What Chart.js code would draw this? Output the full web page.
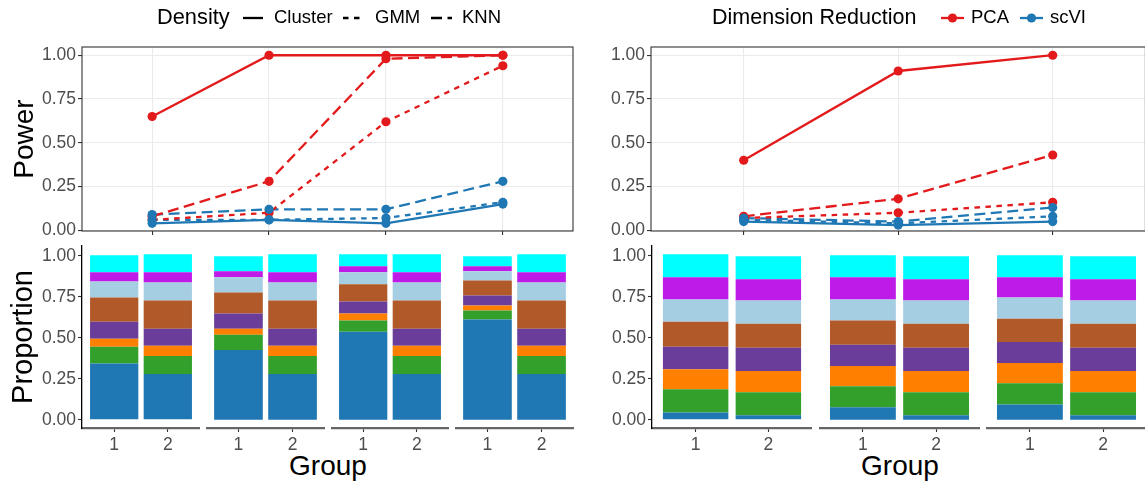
<!DOCTYPE html>
<html lang="en">
<head>
<meta charset="UTF-8">
<title>Power and Proportion</title>
<script src="https://cdn.jsdelivr.net/npm/chart.js"></script>
<style>
  body { margin: 0; background: #fff; width: 1145px; height: 485px; overflow: hidden; position: relative;
         font-family: "Liberation Sans", Arial, sans-serif; }
  canvas { position: absolute; }
  .xtitle { position: absolute; font-size: 28px; color: #000; line-height: 1; transform: translate(-50%, -50%); }
</style>
</head>
<body>
<div class="xtitle" style="left:328px; top:466px;">Group</div>
<div class="xtitle" style="left:900px; top:466px;">Group</div>

<script>
// ---- power curves (x = setting index, not labelled) ----
const settingsLeft = [1, 2, 3, 4];
const settingsRight = [1, 2, 3];

const pcaClusterL = [0.65, 1.00, 1.00, 1.00];
const pcaGmmL     = [0.06, 0.10, 0.62, 0.94];
const pcaKnnL     = [0.08, 0.28, 0.98, 1.00];
const scviClusterL = [0.04, 0.06, 0.04, 0.15];
const scviGmmL     = [0.06, 0.06, 0.07, 0.16];
const scviKnnL     = [0.09, 0.12, 0.12, 0.28];

const pcaClusterR = [0.40, 0.91, 1.00];
const pcaGmmR     = [0.07, 0.10, 0.16];
const pcaKnnR     = [0.08, 0.18, 0.43];
const scviClusterR = [0.05, 0.03, 0.05];
const scviGmmR     = [0.06, 0.04, 0.08];
const scviKnnR     = [0.07, 0.05, 0.13];

const powerTicks = [0, 0.125, 0.25, 0.375, 0.5, 0.625, 0.75, 0.875, 1];

// ---- cell type proportions, bottom to top ----
const groups = ['1', '2'];
const cellTypes = ['Type 1', 'Type 2', 'Type 3', 'Type 4', 'Type 5', 'Type 6', 'Type 7', 'Type 8'];

const leftG2  = [0.279, 0.110, 0.062, 0.104, 0.172, 0.111, 0.062, 0.110];
const leftA1  = [0.344, 0.101, 0.049, 0.104, 0.148, 0.098, 0.056, 0.104];
const leftB1  = [0.426, 0.092, 0.037, 0.093, 0.129, 0.092, 0.037, 0.092];
const leftC1  = [0.537, 0.068, 0.043, 0.073, 0.105, 0.074, 0.036, 0.074];
const leftD1  = [0.611, 0.055, 0.031, 0.061, 0.092, 0.056, 0.030, 0.062];

const rightG2 = [0.027, 0.141, 0.129, 0.142, 0.147, 0.141, 0.130, 0.141];
const rightA1 = [0.045, 0.141, 0.123, 0.136, 0.153, 0.136, 0.135, 0.141];
const rightB1 = [0.076, 0.129, 0.123, 0.129, 0.148, 0.129, 0.135, 0.135];
const rightC1 = [0.094, 0.129, 0.123, 0.129, 0.142, 0.129, 0.123, 0.135];

const propTicks = [0, 0.25, 0.5, 0.75, 1];

// ---- styling ----
const methods = ['PCA', 'scVI'];
const methodColors = ['#E31A1C', '#1F78B4'];
const densities = ['Cluster', 'GMM', 'KNN'];
const densityDash = [[], [5.5, 5.5], [11, 5.5]];
const cellColors = ['#1F78B4', '#33A02C', '#FF7F00', '#6A3D9A', '#B15928', '#A6CEE3', '#BE1BE8', '#00FFFF'];
const tickGrey = '#4D4D4D';
const lineW = 2.3, dotR = 4.6;

Chart.defaults.font.family = '"Liberation Sans", Arial, sans-serif';

function makeCanvas(left, top, w, h) {
  const c = document.createElement('canvas');
  c.width = w; c.height = h;
  c.style.left = left + 'px'; c.style.top = top + 'px';
  document.body.appendChild(c);
  return c;
}

const panelBorder = {
  id: 'panelBorder',
  afterDraw(chart) {
    const a = chart.chartArea, ctx = chart.ctx;
    ctx.save();
    ctx.strokeStyle = '#333333';
    ctx.lineWidth = 1.1;
    ctx.strokeRect(a.left, a.top, a.right - a.left, a.bottom - a.top);
    ctx.restore();
  }
};

function drawKey(ctx, x1, x2, y, color, dash, dot) {
  ctx.save();
  ctx.strokeStyle = color;
  ctx.lineWidth = lineW;
  ctx.setLineDash(dash);
  ctx.beginPath(); ctx.moveTo(x1, y); ctx.lineTo(x2, y); ctx.stroke();
  if (dot) {
    ctx.fillStyle = color;
    ctx.beginPath(); ctx.arc((x1 + x2) / 2, y, dotR, 0, Math.PI * 2); ctx.fill();
  }
  ctx.restore();
}

function legendText(ctx, txt, x, y, size) {
  ctx.save();
  ctx.fillStyle = '#000';
  ctx.font = size + 'px "Liberation Sans", Arial, sans-serif';
  ctx.textBaseline = 'middle';
  ctx.fillText(txt, x, y);
  ctx.restore();
}

// legend for line type (left panel)
const densityLegend = {
  id: 'densityLegend',
  afterDraw(chart) {
    const ctx = chart.ctx, y = 18;
    legendText(ctx, 'Density', 157, y, 21.8);
    const keys = [[243, 263, 274], [343, 363, 375], [431, 452, 462]];
    keys.forEach((k, i) => {
      drawKey(ctx, k[0], k[1], y, '#000', densityDash[i], false);
      legendText(ctx, densities[i], k[2], y, 18.5);
    });
  }
};

// legend for colour (right panel), canvas starts at x = 580
const methodLegend = {
  id: 'methodLegend',
  afterDraw(chart) {
    const ctx = chart.ctx, y = 18, dx = 580;
    legendText(ctx, 'Dimension Reduction', 712 - dx, y, 21.5);
    const keys = [[941, 964, 971], [1020, 1043, 1050]];
    keys.forEach((k, i) => {
      drawKey(ctx, k[0] - dx, k[1] - dx, y, methodColors[i], [], true);
      legendText(ctx, methods[i], k[2] - dx, y, 18.5);
    });
  }
};

function powerDatasets(bySeries) {
  const lines = [], dots = [];
  bySeries.forEach((perDensity, m) => perDensity.forEach((vals, d) => {
    const pts = vals.map((v, i) => ({ x: i, y: v }));
    const name = methods[m] + ' ' + densities[d];
    lines.push({ label: name, data: pts, borderColor: methodColors[m], borderWidth: lineW,
                 borderDash: densityDash[d], pointRadius: 0, tension: 0, fill: false, order: 2 });
    dots.push({ label: name, data: pts, showLine: false, pointRadius: dotR, pointHoverRadius: dotR,
                pointBackgroundColor: methodColors[m], pointBorderWidth: 0, order: m === 1 ? 0 : 1 });
  }));
  return lines.concat(dots);
}

function powerChart(x0, w, L, R, n, bySeries, withTitle, legend) {
  const y0 = 0, h = 250, T = 47, B = 231;
  const c = makeCanvas(x0, y0, w, h);
  const minor = v => Math.abs(v * 4 - Math.round(v * 4)) > 1e-6;
  return new Chart(c, {
    type: 'line',
    data: { datasets: powerDatasets(bySeries) },
    options: {
      responsive: false, animation: false,
      layout: { padding: { left: 0, top: T - y0, right: x0 + w - R, bottom: 0 } },
      plugins: { legend: { display: false }, tooltip: { enabled: false } },
      scales: {
        x: {
          type: 'linear', min: -0.6, max: n - 1 + 0.6,
          afterBuildTicks: s => { s.ticks = Array.from({ length: n }, (_, i) => ({ value: i })); },
          afterFit: s => { s.height = y0 + h - B; },
          ticks: { callback: () => '' },
          grid: { color: '#EBEBEB', lineWidth: 1.1, tickLength: 4, tickColor: '#333333', tickWidth: 1.1 },
          border: { display: false }
        },
        y: {
          min: -0.004, max: 1.047,
          afterBuildTicks: s => { s.ticks = powerTicks.map(v => ({ value: v })); },
          afterFit: s => { s.width = L - x0; },
          ticks: { callback: v => (minor(v) ? '' : v.toFixed(2)), color: tickGrey, font: { size: 17.5 }, padding: 2 },
          grid: {
            color: '#EBEBEB',
            lineWidth: ctx => (minor(ctx.tick.value) ? 0.6 : 1.1),
            tickLength: 4, tickWidth: 1.1,
            tickColor: ctx => (minor(ctx.tick.value) ? 'rgba(0,0,0,0)' : '#333333')
          },
          border: { display: false },
          title: { display: withTitle, text: 'Power', color: '#000', font: { size: 28 }, padding: { top: 8 } }
        }
      }
    },
    plugins: [panelBorder, legend]
  });
}

function propDatasets(g1, g2) {
  return cellTypes.map((name, k) => ({
    label: name,
    data: [{ x: 0, y: g1[k] }, { x: 1, y: g2[k] }],
    backgroundColor: cellColors[k], borderWidth: 0,
    barPercentage: 0.9, categoryPercentage: 1
  }));
}

function propChart(x0, L, R, g1, g2, showY, withTitle) {
  const y0 = 230, h = 255, T = 246, B = 428;
  const c = makeCanvas(x0, y0, R - x0, h);
  return new Chart(c, {
    type: 'bar',
    data: { datasets: propDatasets(g1, g2) },
    options: {
      responsive: false, animation: false,
      layout: { padding: { left: 0, top: T - y0, right: 0, bottom: 0 } },
      plugins: { legend: { display: false }, tooltip: { enabled: false } },
      scales: {
        x: {
          type: 'linear', stacked: true, min: -0.6, max: 1.6, offset: false,
          afterBuildTicks: s => { s.ticks = groups.map((g, i) => ({ value: i })); },
          afterFit: s => { s.height = y0 + h - B; },
          ticks: { callback: v => groups[v], color: tickGrey, font: { size: 17.5 }, padding: 3, maxRotation: 0, autoSkip: false },
          grid: { drawOnChartArea: false, offset: false, tickLength: 4, tickColor: '#333333', tickWidth: 1.1 },
          border: { color: '#666666', width: 2.2 }
        },
        y: {
          display: showY, stacked: true, min: -0.05, max: 1.06,
          afterBuildTicks: s => { s.ticks = propTicks.map(v => ({ value: v })); },
          afterFit: s => { s.width = L - x0; },
          ticks: { callback: v => v.toFixed(2), color: tickGrey, font: { size: 17.5 }, padding: 2 },
          grid: { drawOnChartArea: false, tickLength: 4, tickColor: '#333333', tickWidth: 1.1 },
          border: { color: '#000000', width: 1.3 },
          title: { display: withTitle, text: 'Proportion', color: '#000', font: { size: 29 }, padding: { top: 7 } }
        }
      }
    }
  });
}

// top row: power
powerChart(0, 580, 82, 573, settingsLeft.length,
  [[pcaClusterL, pcaGmmL, pcaKnnL], [scviClusterL, scviGmmL, scviKnnL]], true, densityLegend);
powerChart(580, 570, 651, 1147, settingsRight.length,
  [[pcaClusterR, pcaGmmR, pcaKnnR], [scviClusterR, scviGmmR, scviKnnR]], false, methodLegend);

// bottom row: proportions, one panel per setting
propChart(0,   82,  200, leftA1, leftG2, true, true);
propChart(206, 206, 325, leftB1, leftG2, false, false);
propChart(331, 331, 449, leftC1, leftG2, false, false);
propChart(455, 455, 574, leftD1, leftG2, false, false);

propChart(580, 652, 812, rightA1, rightG2, true, false);
propChart(819, 819, 980, rightB1, rightG2, false, false);
propChart(986, 986, 1147, rightC1, rightG2, false, false);
</script>
</body>
</html>
